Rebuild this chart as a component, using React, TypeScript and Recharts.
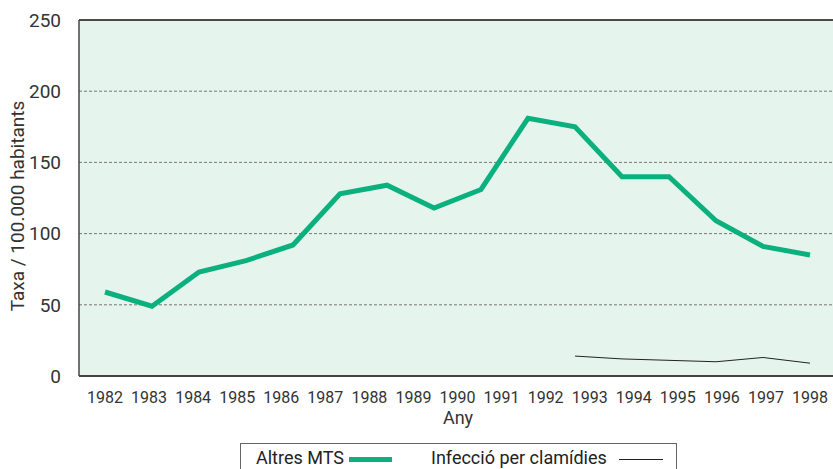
import React from 'react';
import { LineChart, Line, XAxis, YAxis, CartesianGrid, ReferenceLine } from 'recharts';

const years = [1982, 1983, 1984, 1985, 1986, 1987, 1988, 1989, 1990, 1991, 1992, 1993, 1994, 1995, 1996, 1997, 1998];
// the original plots 16 points spread across the 17 year labels
const pointIndex = [0, 1, 2, 3, 4, 5, 6, 7, 8, 9, 10, 11, 12, 13, 14, 15];
const altresMTS = [59, 49, 73, 81, 92, 128, 134, 118, 131, 181, 175, 140, 140, 109, 91, 85];
const clamidies = [null, null, null, null, null, null, null, null, null, null, 14, 12, 11, 10, 13, 9];
const yTicks = [0, 50, 100, 150, 200, 250];

const font = 'Roboto, "Liberation Sans", sans-serif';

// year labels sit evenly over the same span as the points
const lastPoint = pointIndex[pointIndex.length - 1];
const yearTicks = years.map((_, i) => (i * lastPoint) / (years.length - 1));

const App: React.FC = () => {
    const data = pointIndex.map((p, i) => ({
        pos: p,
        altres: altresMTS[i],
        clam: clamidies[i],
    }));

    const yearLabel = (v: number) => {
        const i = yearTicks.findIndex((t) => Math.abs(t - v) < 1e-6);
        return i >= 0 ? String(years[i]) : '';
    };

    return (
        <div style={{ position: 'absolute', left: 0, top: 0, width: 833, height: 469, background: '#fff', fontFamily: font }}>
            <LineChart width={833} height={469} data={data} margin={{ top: 20, right: 0, left: 0, bottom: 53 }}>
                <CartesianGrid
                    vertical={false}
                    fill="#e5f4ec"
                    stroke="#777"
                    strokeDasharray="3 2"
                    horizontalValues={[50, 100, 150, 200]}
                />
                <XAxis
                    type="number"
                    dataKey="pos"
                    domain={[0, lastPoint]}
                    ticks={yearTicks}
                    tickFormatter={yearLabel}
                    interval={0}
                    padding={{ left: 26, right: 23 }}
                    height={40}
                    tickLine={false}
                    tickMargin={10}
                    axisLine={{ stroke: '#444', strokeWidth: 2 }}
                    tick={{ fill: '#333', fontSize: 16, fontFamily: font }}
                    label={{
                        content: () => (
                            <text x={458} y={424} textAnchor="middle" fill="#333" fontSize={18} fontFamily={font}>Any</text>
                        ),
                    }}
                />
                <YAxis
                    domain={[0, 250]}
                    ticks={yTicks}
                    width={79}
                    tickLine={false}
                    tickMargin={12}
                    axisLine={{ stroke: '#444', strokeWidth: 1.5 }}
                    tick={{ fill: '#333', fontSize: 19, fontFamily: font }}
                    label={{
                        content: () => (
                            <text x={24} y={206} transform="rotate(-90 24 206)" textAnchor="middle" fill="#333" fontSize={19} fontFamily={font}>
                                Taxa / 100.000 habitants
                            </text>
                        ),
                    }}
                />
                <ReferenceLine y={250} stroke="#111" strokeWidth={1.5} />
                <Line
                    dataKey="altres"
                    stroke="#0bb07f"
                    strokeWidth={5}
                    dot={false}
                    strokeLinejoin="miter"
                    isAnimationActive={false}
                />
                <Line
                    dataKey="clam"
                    stroke="#222"
                    strokeWidth={1}
                    dot={false}
                    isAnimationActive={false}
                />
            </LineChart>
            <div
                style={{
                    position: 'absolute',
                    left: 240,
                    top: 443,
                    width: 437,
                    height: 34,
                    border: '1px solid #666',
                    boxSizing: 'border-box',
                    background: '#fff',
                    fontSize: 18,
                    color: '#222',
                }}
            >
                <span style={{ position: 'absolute', left: 15, top: 3 }}>Altres MTS</span>
                <span style={{ position: 'absolute', left: 108, top: 13, width: 43, height: 5, background: '#0bb07f' }} />
                <span style={{ position: 'absolute', left: 190, top: 3 }}>Infecció per clamídies</span>
                <span style={{ position: 'absolute', left: 378, top: 15, width: 44, height: 1, background: '#222' }} />
            </div>
        </div>
    );
};

export default App;
